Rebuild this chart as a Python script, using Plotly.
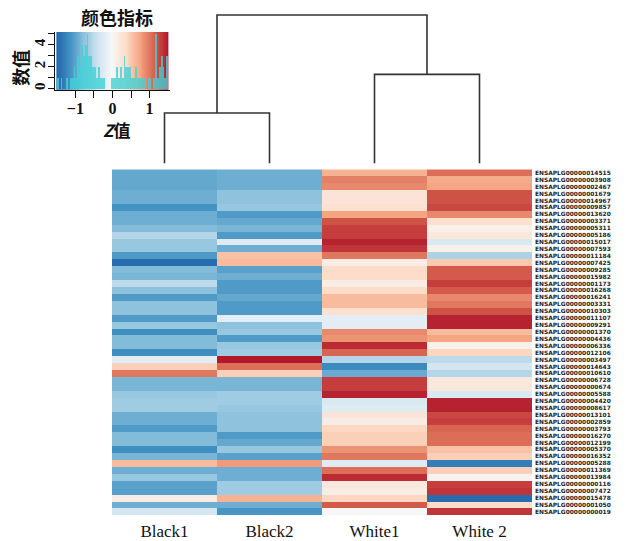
import numpy as np
import plotly.graph_objects as go

# ---- data -------------------------------------------------------------
samples = ["Black1", "Black2", "White1", "White 2"]

genes = [
    "ENSAPLG00000014515", "ENSAPLG00000003908", "ENSAPLG00000002467", "ENSAPLG00000001679",
    "ENSAPLG00000014967", "ENSAPLG00000009857", "ENSAPLG00000013620", "ENSAPLG00000003371",
    "ENSAPLG00000005311", "ENSAPLG00000005186", "ENSAPLG00000015017", "ENSAPLG00000007593",
    "ENSAPLG00000011184", "ENSAPLG00000007425", "ENSAPLG00000009285", "ENSAPLG00000015982",
    "ENSAPLG00000001173", "ENSAPLG00000016268", "ENSAPLG00000016241", "ENSAPLG00000003331",
    "ENSAPLG00000010303", "ENSAPLG00000011107", "ENSAPLG00000009291", "ENSAPLG00000001370",
    "ENSAPLG00000004436", "ENSAPLG00000006336", "ENSAPLG00000012106", "ENSAPLG00000003497",
    "ENSAPLG00000014643", "ENSAPLG00000010610", "ENSAPLG00000006728", "ENSAPLG00000000674",
    "ENSAPLG00000005588", "ENSAPLG00000004420", "ENSAPLG00000008617", "ENSAPLG00000013101",
    "ENSAPLG00000002859", "ENSAPLG00000003793", "ENSAPLG00000016270", "ENSAPLG00000012199",
    "ENSAPLG00000005370", "ENSAPLG00000016352", "ENSAPLG00000005288", "ENSAPLG00000011369",
    "ENSAPLG00000013984", "ENSAPLG00000000116", "ENSAPLG00000007472", "ENSAPLG00000015478",
    "ENSAPLG00000001050", "ENSAPLG00000000019",
]

# row-scaled expression (Z values), one list per sample
black1 = [-0.97, -0.97, -0.97, -0.92, -0.92, -1.12, -0.92, -0.92, -0.82, -0.55,
          -0.72, -0.72, -1.07, -1.45, -0.82, -0.87, -0.50, -0.77, -1.07, -0.77,
          -0.77, -1.07, -0.72, -1.17, -0.82, -0.82, -1.17, -0.20, 0.45, 1.00,
          -0.87, -0.87, -0.72, -0.67, -0.67, -0.92, -0.92, -1.07, -0.82, -0.82,
          -1.17, -0.87, 0.60, -0.92, -0.72, -1.02, -1.02, 0.15, -0.92, -0.35]
black2 = [-0.92, -0.92, -0.92, -0.77, -0.77, -0.72, -1.07, -0.97, -0.87, -1.07,
          -0.25, -0.92, 0.55, 0.60, -1.02, -0.92, -1.07, -1.07, -0.97, -1.07,
          -1.07, -0.20, -0.77, -0.72, -1.07, -0.72, -0.67, 1.50, 1.05, 0.45,
          -0.87, -0.87, -0.67, -0.67, -0.72, -0.77, -0.77, -0.77, -1.07, -0.97,
          -0.72, -1.02, 0.80, -0.92, -0.92, -0.67, -0.67, 0.65, -0.92, -1.10]
white1 = [0.65, 0.95, 0.90, 0.25, 0.25, 0.30, 0.75, 1.20, 1.30, 1.30,
          1.45, 1.35, 1.00, 0.15, 0.35, 0.35, 0.15, 0.35, 0.60, 0.60,
          0.30, -0.20, -0.20, 0.90, 0.85, 1.40, 1.10, -0.55, -1.20, -0.95,
          1.30, 1.30, 1.45, -0.30, -0.25, 0.25, 0.15, 0.40, 0.45, 0.45,
          0.85, 1.00, -0.25, 1.05, 1.40, 0.20, 0.15, 0.40, 1.15, 0.00]
white2 = [1.05, 0.70, 0.75, 1.20, 1.20, 1.25, 0.90, 0.30, 0.10, 0.20,
          -0.30, 0.10, -0.60, 0.50, 1.15, 1.15, 1.30, 1.15, 0.90, 1.00,
          1.20, 1.45, 1.45, 0.60, 0.75, 0.10, 0.40, -0.50, -0.35, -0.55,
          0.20, 0.20, -0.30, 1.45, 1.45, 1.25, 1.30, 1.10, 1.05, 1.05,
          0.55, 0.45, -1.30, 0.45, 0.05, 1.30, 1.35, -1.45, 0.35, 1.35]

# column dendrogram merge heights (relative)
h_black, h_white, h_root = 0.34, 0.60, 1.00

# colour-key histogram: bin starts (width 0.05) and counts
hist_left = [round(-1.5 + 0.05 * k, 2) for k in range(60)]
hist_counts = [1, 0, 1, 0, 0, 1, 0, 1, 1, 2,
               1, 3, 2, 4, 3, 4, 5, 3, 3, 2,
               2, 1, 2, 1, 1, 1, 0, 0, 0, 1,
               1, 1, 2, 1, 2, 1, 3, 2, 2, 2,
               1, 1, 2, 1, 1, 1, 1, 1, 0, 1,
               1, 0, 1, 5, 1, 2, 3, 2, 1, 3]

# ---- styling ----------------------------------------------------------
W, H = 629, 541
rdbu = ["#2166AC", "#4393C3", "#92C5DE", "#D1E5F0", "#F7F7F7",
        "#FDDBC7", "#F4A582", "#D6604D", "#B2182B"]
cscale = [[i / (len(rdbu) - 1), c] for i, c in enumerate(rdbu)]
ZMIN, ZMAX = -1.5, 1.5
SERIF = "Liberation Serif"
CJK = "Noto Sans CJK SC"
LINE = "#333333"


def px_x(a, b):
    return [a / W, b / W]


def px_y(top, bottom):
    return [1 - bottom / H, 1 - top / H]


z = [[b1, b2, w1, w2] for b1, b2, w1, w2 in zip(black1, black2, white1, white2)]

fig = go.Figure()

# main heatmap
fig.add_trace(go.Heatmap(
    z=z, x=samples, y=genes, colorscale=cscale, zmin=ZMIN, zmax=ZMAX,
    showscale=False, xaxis="x", yaxis="y", hoverongaps=False,
))

# column dendrogram
dx, dy = [], []
segs = [
    ([0, 0, 1, 1], [0, h_black, h_black, 0]),
    ([2, 2, 3, 3], [0, h_white, h_white, 0]),
    ([0.5, 0.5, 2.5, 2.5], [h_black, h_root, h_root, h_white]),
]
for sx, sy in segs:
    dx += sx + [None]
    dy += sy + [None]
fig.add_trace(go.Scatter(
    x=dx, y=dy, mode="lines", line=dict(color=LINE, width=1.6),
    xaxis="x2", yaxis="y2", hoverinfo="skip", showlegend=False,
))

# colour key with histogram
key_x = np.linspace(ZMIN, ZMAX, 121)
fig.add_trace(go.Heatmap(
    z=[list(key_x), list(key_x)], x=key_x, y=[0, 5], colorscale=cscale,
    zmin=ZMIN, zmax=ZMAX, showscale=False, xaxis="x3", yaxis="y3",
    hoverinfo="skip",
))
fig.add_trace(go.Bar(
    x=[v + 0.025 for v in hist_left], y=hist_counts, width=0.05,
    marker=dict(color="rgba(64,210,214,0.8)", line=dict(width=0)),
    xaxis="x3", yaxis="y3", showlegend=False, hoverinfo="skip",
))

heat_top, heat_bot = 170, 517
leaf_px, root_px = 164, 15
d_top_val = 1.02
d_top_px = leaf_px - (leaf_px - root_px) / h_root * d_top_val


def note(text, x, y, size, angle=0):
    return dict(text=text, x=x / W, y=1 - y / H, xref="paper", yref="paper",
                xanchor="center", yanchor="middle", showarrow=False,
                textangle=angle, font=dict(family=CJK, size=size, color="#111"))


fig.update_layout(
    width=W, height=H, margin=dict(l=0, r=0, t=0, b=0),
    paper_bgcolor="white", plot_bgcolor="white", showlegend=False,
    bargap=0,
    xaxis=dict(domain=px_x(112, 532), anchor="y", showgrid=False, zeroline=False,
               ticks="", tickfont=dict(family=SERIF, size=17, color="#111"),
               ticklabelstandoff=4, fixedrange=True),
    yaxis=dict(domain=px_y(heat_top, heat_bot), anchor="x", side="right",
               autorange="reversed", showgrid=False, zeroline=False, ticks="",
               tickmode="array", tickvals=genes, ticktext=genes,
               tickfont=dict(family="DejaVu Sans", weight="bold", size=5.9,
                             color="#222"),
               ticklabelstandoff=2, fixedrange=True),
    xaxis2=dict(domain=px_x(112, 532), anchor="y2", range=[-0.5, 3.5], visible=False),
    yaxis2=dict(domain=px_y(d_top_px, leaf_px), anchor="x2", range=[0, d_top_val],
                visible=False),
    xaxis3=dict(domain=px_x(55, 170), anchor="y3", range=[-1.55, 1.55],
                showgrid=False, zeroline=False, showline=True, linecolor="#111",
                linewidth=1.2, ticks="outside", ticklen=7, tickwidth=1.4,
                tickcolor="#111", tickvals=[-1, -0.5, 0, 0.5, 1],
                ticktext=["−1", "", "0", "", "1"], ticklabelstandoff=-3,
                tickfont=dict(family=SERIF, weight="bold", size=16, color="#111")),
    yaxis3=dict(domain=px_y(32, 90), anchor="x3", range=[-0.1, 5.17],
                showgrid=False, zeroline=False, showline=True, linecolor="#111",
                linewidth=1.2, ticks="outside", ticklen=6, tickwidth=1.4,
                tickcolor="#111", tickvals=[0, 1, 2, 3, 4, 5],
                ticktext=["0", "", "2", "", "4", ""], tickangle=-90,
                ticklabelstandoff=-3,
                tickfont=dict(family=SERIF, weight="bold", size=15, color="#111")),
    annotations=[
        note("<b>颜色指标</b>", 117, 17, 18),
        note("<b>数值</b>", 20, 68, 18, -90),
        note("<b><i>Z</i>值</b>", 116, 130, 17),
    ],
)

fig.write_html("out.html")
